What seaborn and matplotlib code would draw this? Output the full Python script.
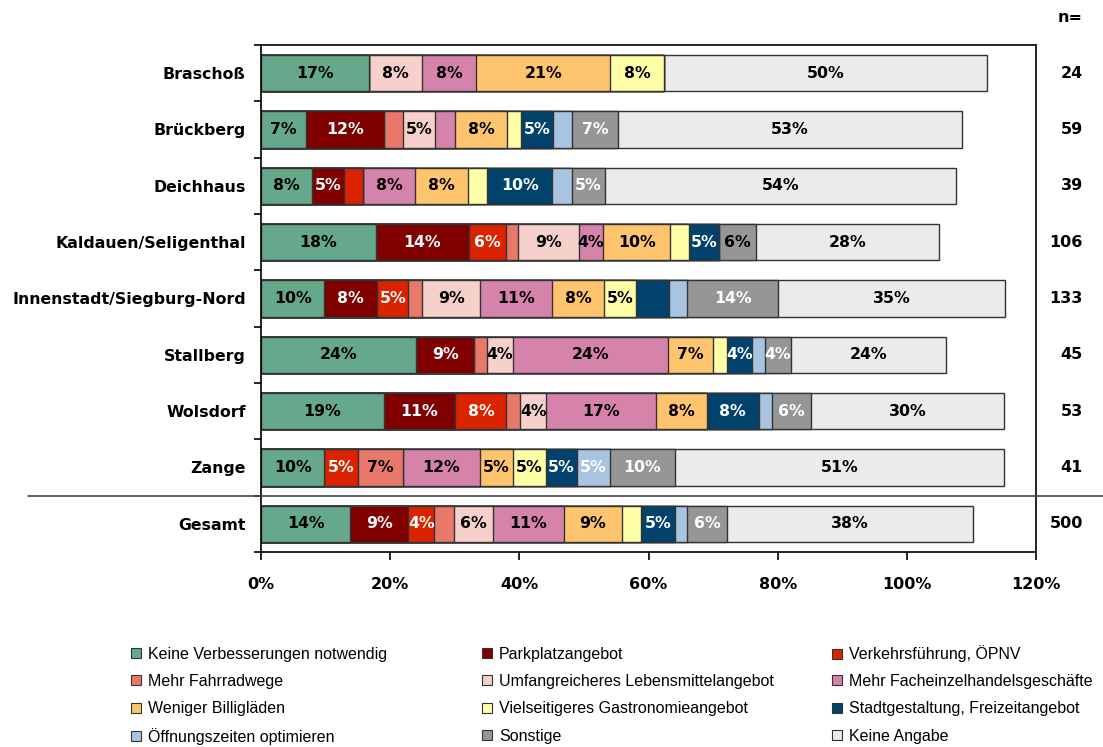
import numpy as np
import pandas as pd
import matplotlib
matplotlib.use("Agg")
import matplotlib.pyplot as plt
from matplotlib.patches import Patch
from matplotlib.transforms import blended_transform_factory
import seaborn as sns

# ---------------- data ----------------
rows = ["Braschoß", "Brückberg", "Deichhaus", "Kaldauen/Seligenthal",
        "Innenstadt/Siegburg-Nord", "Stallberg", "Wolsdorf", "Zange", "Gesamt"]
n_values = ["24", "59", "39", "106", "133", "45", "53", "41", "500"]

categories = ["Keine Verbesserungen notwendig", "Parkplatzangebot", "Verkehrsführung, ÖPNV",
              "Mehr Fahrradwege", "Umfangreicheres Lebensmittelangebot",
              "Mehr Facheinzelhandelsgeschäfte", "Weniger Billigläden",
              "Vielseitigeres Gastronomieangebot", "Stadtgestaltung, Freizeitangebot",
              "Öffnungszeiten optimieren", "Sonstige", "Keine Angabe"]

braschoss   = [16.7, 0.0, 0.0, 0.0, 8.3, 8.3, 20.8, 8.3, 0.0, 0.0, 0.0, 50.0]
brueckberg  = [6.9, 12.1, 0.0, 3.0, 4.9, 3.2, 8.0, 2.1, 5.0, 3.0, 7.0, 53.3]
deichhaus   = [7.9, 5.0, 2.9, 0.0, 0.0, 8.1, 8.1, 3.0, 10.1, 3.0, 5.1, 54.4]
kaldauen    = [17.8, 14.4, 5.7, 1.9, 9.4, 3.8, 10.4, 2.8, 4.7, 0.0, 5.7, 28.4]
innenstadt  = [9.8, 8.2, 4.8, 2.2, 8.9, 11.2, 8.0, 5.0, 5.0, 2.9, 14.1, 35.1]
stallberg   = [24.0, 9.0, 0.0, 2.0, 4.0, 24.0, 7.0, 2.1, 3.9, 2.0, 4.0, 24.0]
wolsdorf    = [19.0, 11.1, 7.9, 2.1, 4.1, 17.0, 7.8, 0.0, 8.1, 2.1, 6.0, 29.9]
zange       = [9.8, 0.0, 5.2, 7.0, 0.0, 11.9, 5.1, 5.1, 4.9, 5.0, 10.1, 51.0]
gesamt      = [13.8, 9.0, 4.0, 3.1, 6.0, 11.0, 9.0, 3.0, 5.2, 1.8, 6.3, 38.0]

values = [braschoss, brueckberg, deichhaus, kaldauen, innenstadt,
          stallberg, wolsdorf, zange, gesamt]

# segments without a printed label in the original (besides tiny ones)
hidden_labels = [("Innenstadt/Siegburg-Nord", "Stadtgestaltung, Freizeitangebot")]
dark_label_override = [("Kaldauen/Seligenthal", "Sonstige")]

colors = ["#66A88B", "#800000", "#DC2300", "#E8796A", "#F6D1CB", "#D683AC",
          "#FEC46E", "#FFFFA8", "#00426C", "#A8C4E0", "#969696", "#EBEBEB"]
white_text = {"Parkplatzangebot", "Verkehrsführung, ÖPNV", "Stadtgestaltung, Freizeitangebot",
              "Öffnungszeiten optimieren", "Sonstige"}

xticks = [0, 20, 40, 60, 80, 100, 120]
xticklabels = ["0%", "20%", "40%", "60%", "80%", "100%", "120%"]

# ---------------- figure ----------------
sns.set_theme(style="white", rc={"text.color": "black", "xtick.color": "black",
                                 "ytick.color": "black", "axes.labelcolor": "black"})
plt.rcParams["font.family"] = ["DejaVu Sans"]

W, H = 1103, 747
fig = plt.figure(figsize=(W / 100, H / 100), dpi=100)
ax = fig.add_axes([261 / W, 1 - 552 / H, (1036 - 261) / W, (552 - 45) / H])

df = pd.DataFrame(values, index=rows, columns=categories)
cum = df.cumsum(axis=1)

# draw cumulative bars from back to front so each layer shows its segment
for k in range(len(categories) - 1, -1, -1):
    sns.barplot(x=cum.iloc[:, k].values, y=rows, order=rows, orient="h",
                color=colors[k], saturation=1, width=0.64, errorbar=None,
                edgecolor="#333333", linewidth=1.0, ax=ax)

# value labels
for i, r in enumerate(rows):
    left = 0.0
    for k, c in enumerate(categories):
        v = df.loc[r, c]
        if v >= 3.5 and (r, c) not in hidden_labels:
            col = "white" if c in white_text else "black"
            if (r, c) in dark_label_override:
                col = "black"
            ax.text(left + v / 2, i, f"{int(round(v))}%", ha="center", va="center",
                    fontsize=11.3, fontweight="bold", color=col)
        left += v

ax.set_xlim(0, 120)
ax.set_ylim(len(rows) - 0.5, -0.5)
ax.set_xticks(xticks)
ax.set_xticklabels(xticklabels, fontsize=11.5, fontweight="bold", color="black")
ax.set_yticks(range(len(rows)))
ax.set_yticklabels(rows, fontsize=11.3, fontweight="bold", color="black")
ax.set_yticks(np.arange(-0.5, len(rows), 1.0), minor=True)
ax.set_xlabel("")
ax.set_ylabel("")
ax.tick_params(axis="y", which="major", length=0, pad=11)
ax.tick_params(axis="y", which="minor", length=5, width=1.2, color="black", direction="out", left=True)
ax.tick_params(axis="x", which="major", length=6, width=1.2, color="black", direction="out",
               bottom=True, pad=12)
for s in ax.spines.values():
    s.set_visible(True)
    s.set_color("black")
    s.set_linewidth(1.2)

# separator before "Gesamt"
tr = blended_transform_factory(ax.transAxes, ax.transData)
ax.plot([(28 - 261) / 775, (1103 - 261) / 775], [7.5, 7.5], transform=tr,
        color="#444444", lw=1.2, clip_on=False, zorder=5)

# n= column
trn = blended_transform_factory(fig.transFigure, ax.transData)
for i, nv in enumerate(n_values):
    ax.text(1083 / W, i, nv, transform=trn, ha="right", va="center",
            fontsize=11.5, fontweight="bold", color="black")
fig.text(1083 / W, 1 - 18 / H, "n=", ha="right", va="center",
         fontsize=11.5, fontweight="bold", color="black")

# legend: three columns, row-major order, one entry per legend so rows line up
handles = [Patch(facecolor=c, edgecolor="#333333", linewidth=0.8) for c in colors]
col_x = [131 / W, 482 / W, 832 / W]
row_y = [1 - 654 / H, 1 - 681.5 / H, 1 - 709 / H, 1 - 736.5 / H]
for idx, (h, lab) in enumerate(zip(handles, categories)):
    ri, ci = divmod(idx, 3)
    fig.legend([h], [lab], loc="center left",
               bbox_to_anchor=(col_x[ci], row_y[ri]), frameon=False,
               borderpad=0, borderaxespad=0, handlelength=0.6, handleheight=0.6,
               handletextpad=0.45, labelcolor="black",
               prop={"family": ["Liberation Sans", "DejaVu Sans"], "size": 11.5})

fig.savefig("out.png", dpi=100)
